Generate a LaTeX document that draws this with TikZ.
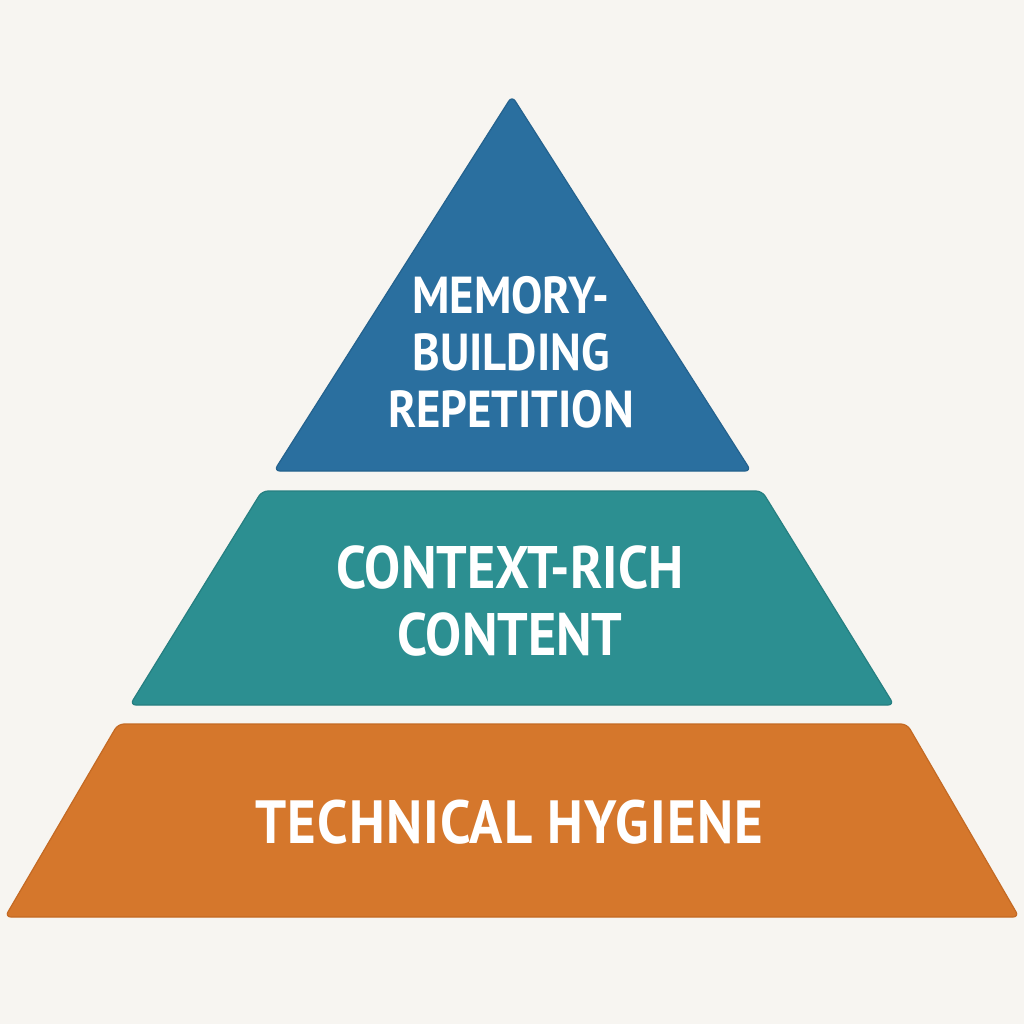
\documentclass[tikz,border=0pt]{standalone}
\usepackage{fontspec}
\newfontfamily\labelfont[FakeStretch=0.9]{PT Sans}
\newfontfamily\botfont[FakeStretch=0.9, LetterSpace=2]{PT Sans}
\definecolor{bg}{HTML}{F7F5F1}
\definecolor{topblue}{HTML}{2A6F9F}
\definecolor{topedge}{HTML}{24628E}
\definecolor{midteal}{HTML}{2C8F91}
\definecolor{midedge}{HTML}{267F81}
\definecolor{botorange}{HTML}{D5772C}
\definecolor{botedge}{HTML}{C46A24}
\tikzset{
  layer/.style={rounded corners=6pt, line width=1.2pt, line join=round},
  lbl/.style={text=white, align=center, inner sep=0pt}
}
\begin{document}
\begin{tikzpicture}[x=1pt,y=-1pt]
\path[fill=bg] (0,0) rectangle (1024,1024);
\useasboundingbox (0,0) rectangle (1024,1024);
% top triangle
\draw[layer, fill=topblue, draw=topedge] (512,96) -- (751,471) -- (274,471) -- cycle;
% middle trapezoid
\draw[layer, fill=midteal, draw=midedge] (262,491) -- (762,491) -- (894,705) -- (130,705) -- cycle;
% bottom trapezoid
\draw[layer, fill=botorange, draw=botedge] (118,724) -- (907,724) -- (1019,917) -- (5,917) -- cycle;
\node[lbl, font=\labelfont\bfseries\fontsize{52}{57}\selectfont] (top) at (511,352) {MEMORY-\\BUILDING\\REPETITION};
\node[lbl, font=\labelfont\bfseries\fontsize{60}{67}\selectfont] (mid) at (510,601) {CONTEXT-RICH\\CONTENT};
\node[lbl, font=\botfont\bfseries\fontsize{61}{67}\selectfont] (bot) at (509,822) {TECHNICAL HYGIENE};
\end{tikzpicture}
\end{document}
